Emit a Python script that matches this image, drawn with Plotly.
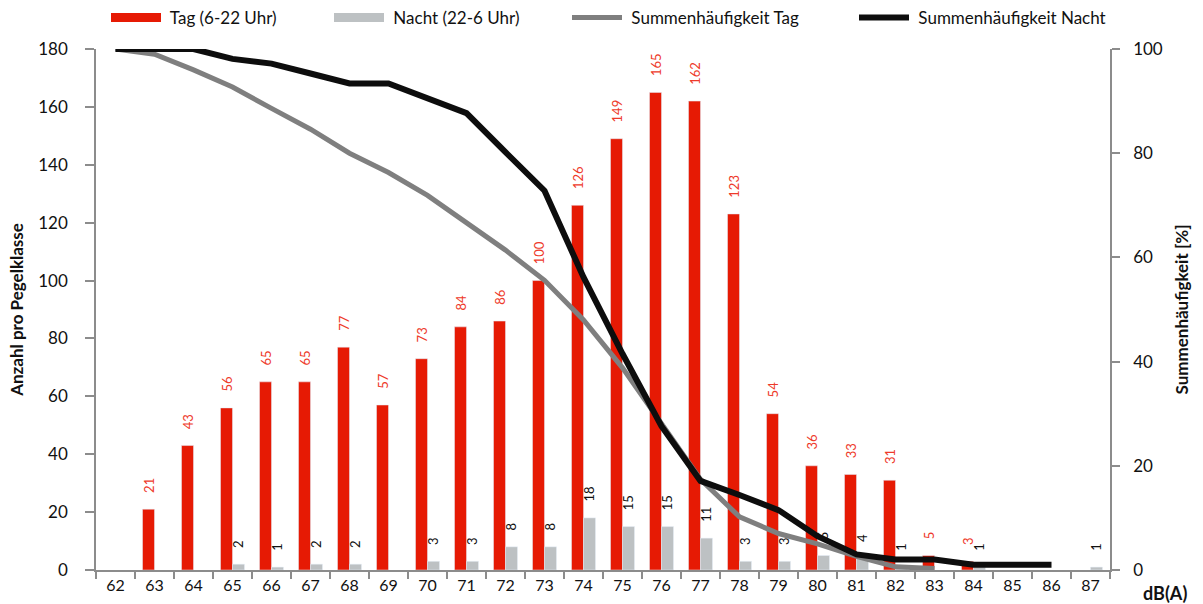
import plotly.graph_objects as go

categories = [str(c) for c in range(62, 88)]

tag_counts = [None, 21, 43, 56, 65, 65, 77, 57, 73, 84, 86, 100, 126, 149, 165, 162,
              123, 54, 36, 33, 31, 5, 3, None, None, None]
nacht_counts = [None, None, None, 2, 1, 2, 2, None, 3, 3, 8, 8, 18, 15, 15, 11,
                3, 3, 5, 4, 1, None, 1, None, None, 1]

tag_cum = [100, 99.0, 96.0, 92.7, 88.6, 84.6, 80.0, 76.3, 71.9, 66.7, 61.4, 55.6, 48.0,
           38.8, 27.9, 17.4, 10.2, 7.0, 5.0, 2.6, 0.6, 0.3, None, None, None, None]
nacht_cum = [100, 100, 100, 98.1, 97.2, 95.3, 93.4, 93.4, 90.6, 87.7, 80.2, 72.8, 56.2,
             41.5, 27.6, 17.1, 14.4, 11.5, 6.5, 3.0, 2.0, 2.0, 1.0, 1.0, 1.0, None]

RED = "#e61a04"
LIGHT = "#bdc1c3"
GRAY_LINE = "#7f7f7f"
BLACK_LINE = "#0d0d0d"
AXIS = "#8c8c8c"
FONT = "Lato"

def labels(vals):
    return ["\u00a0\u00a0\u00a0\u00a0" + str(v) if v is not None else "" for v in vals]

fig = go.Figure()

fig.add_trace(go.Bar(
    x=categories, y=tag_counts, name="Tag (6-22 Uhr)", marker_color=RED,
    text=labels(tag_counts), textposition="outside", textangle=-90,
    constraintext="none", cliponaxis=False,
    textfont=dict(color="#ee3a2a", size=13, family=FONT),
    showlegend=False, hoverinfo="skip"))
fig.add_trace(go.Bar(
    x=categories, y=nacht_counts, name="Nacht (22-6 Uhr)", marker_color=LIGHT,
    text=labels(nacht_counts), textposition="outside", textangle=-90,
    constraintext="none", cliponaxis=False,
    textfont=dict(color="#111111", size=13, family=FONT),
    showlegend=False, hoverinfo="skip"))
fig.add_trace(go.Scatter(
    x=categories, y=tag_cum, name="Summenhäufigkeit Tag", yaxis="y2",
    mode="lines", line=dict(color=GRAY_LINE, width=5), showlegend=False,
    connectgaps=False, hoverinfo="skip"))
fig.add_trace(go.Scatter(
    x=categories, y=nacht_cum, name="Summenhäufigkeit Nacht", yaxis="y2",
    mode="lines", line=dict(color=BLACK_LINE, width=6), showlegend=False,
    connectgaps=False, hoverinfo="skip"))

# legend-only entries
legend_items = [
    ("Tag (6-22 Uhr)", RED, 9, "legend"),
    ("Nacht (22-6 Uhr)", LIGHT, 9, "legend2"),
    ("Summenhäufigkeit Tag", GRAY_LINE, 5, "legend3"),
    ("Summenhäufigkeit Nacht", BLACK_LINE, 6, "legend4"),
]
for name, col, w, lg in legend_items:
    fig.add_trace(go.Scatter(x=[None], y=[None], name=" " + name, mode="lines",
                             line=dict(color=col, width=w), legend=lg,
                             showlegend=True, hoverinfo="skip"))

legend_x = [106, 329, 567, 854]
leg_common = dict(orientation="h", xref="container", yref="container",
                  xanchor="left", yanchor="middle", y=1 - 18 / 604,
                  bgcolor="rgba(0,0,0,0)", itemwidth=50,
                  font=dict(family=FONT, size=17, color="#111111"))

fig.update_layout(
    width=1203, height=604,
    margin=dict(l=96, r=93, t=49, b=34, autoexpand=False),
    paper_bgcolor="white", plot_bgcolor="white",
    barmode="group", bargap=0.385, bargroupgap=0,
    font=dict(family=FONT, color="#111111"),
    legend=dict(x=legend_x[0] / 1203, **leg_common),
    legend2=dict(x=legend_x[1] / 1203, **leg_common),
    legend3=dict(x=legend_x[2] / 1203, **leg_common),
    legend4=dict(x=legend_x[3] / 1203, **leg_common),
    xaxis=dict(type="category", categoryorder="array", categoryarray=categories,
               range=[-0.5, len(categories) - 0.5], tickson="boundaries",
               ticks="outside", ticklen=7, tickwidth=1.5, tickcolor=AXIS,
               showline=True, linecolor=AXIS, linewidth=1.5, showgrid=False,
               tickfont=dict(size=16, family=FONT, color="#111111")),
    yaxis=dict(range=[0, 180], dtick=20, ticks="outside", ticklen=9, tickwidth=1.5,
               tickcolor=AXIS, showline=True, linecolor=AXIS, linewidth=1.5,
               showgrid=False, zeroline=False, ticklabelstandoff=14,
               tickfont=dict(size=17, family=FONT, color="#111111"),
               title=dict(text="<b>Anzahl pro Pegelklasse</b>", standoff=10,
                          font=dict(size=17, family=FONT, color="#111111"))),
    yaxis2=dict(range=[0, 100], dtick=20, overlaying="y", side="right",
                ticks="outside", ticklen=8, tickwidth=1.5, tickcolor=AXIS,
                showline=True, linecolor=AXIS, linewidth=1.5, showgrid=False,
                zeroline=False, ticklabelstandoff=10,
                tickfont=dict(size=17, family=FONT, color="#111111"),
                title=dict(text="<b>Summenhäufigkeit [%]</b>", standoff=14,
                           font=dict(size=17, family=FONT, color="#111111"))),
    annotations=[dict(text="<b>dB(A)</b>", xref="paper", yref="paper",
                      x=(1165 - 96) / 1014, y=(570 - 593) / 521,
                      xanchor="center", yanchor="middle", showarrow=False,
                      font=dict(size=18, family=FONT, color="#111111"))],
)

fig.write_html("out.html", config={"displayModeBar": False},
               post_script="document.body.style.margin='0';")
